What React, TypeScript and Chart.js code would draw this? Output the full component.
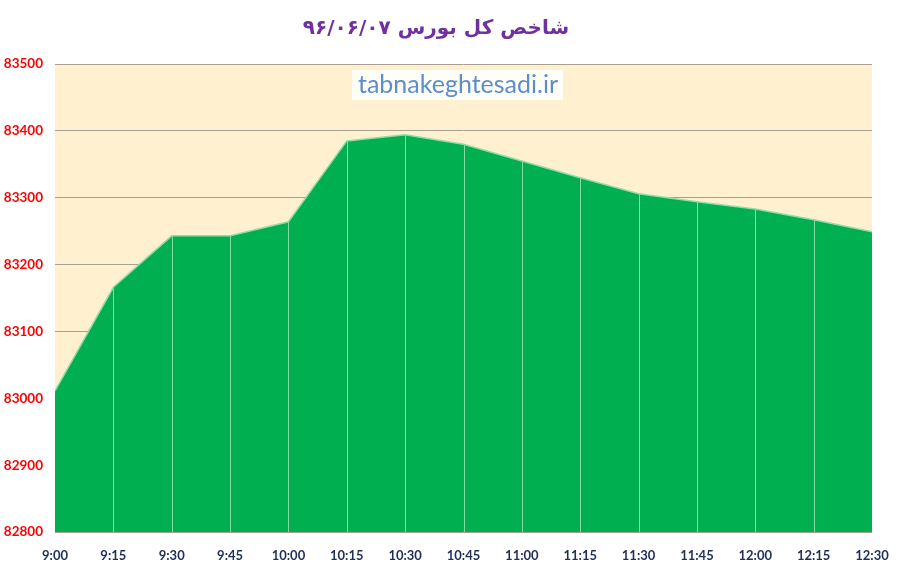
import { useEffect, useRef } from 'react';
import { Chart, registerables, Plugin } from 'chart.js';

Chart.register(...registerables);

const times = [
	'9:00', '9:15', '9:30', '9:45', '10:00', '10:15', '10:30', '10:45',
	'11:00', '11:15', '11:30', '11:45', '12:00', '12:15', '12:30',
];
const indexValues = [
	83011, 83166, 83243, 83243, 83264, 83385, 83394, 83380,
	83355, 83330, 83306, 83294, 83283, 83267, 83249,
];
const titleText = 'شاخص کل بورس ۹۶/۰۶/۰۷';
const watermark = 'tabnakeghtesadi.ir';

// beige plot background, drop lines and the site watermark
const decorations: Plugin<'line'> = {
	id: 'decorations',
	beforeDraw(chart) {
		const { ctx, chartArea: a } = chart;
		ctx.save();
		ctx.fillStyle = '#FFF0CF';
		ctx.fillRect(a.left, a.top, a.right - a.left, a.bottom - a.top);
		ctx.restore();
	},
	afterDatasetsDraw(chart) {
		const { ctx, chartArea: a } = chart;
		const meta = chart.getDatasetMeta(0);
		ctx.save();
		ctx.strokeStyle = '#86DCA0';
		ctx.lineWidth = 1;
		meta.data.forEach((pt, i) => {
			if (i === 0 || i === meta.data.length - 1) return;
			const x = Math.round(pt.x) + 0.5;
			ctx.beginPath();
			ctx.moveTo(x, pt.y);
			ctx.lineTo(x, a.bottom);
			ctx.stroke();
		});
		ctx.restore();
	},
	afterDraw(chart) {
		const { ctx } = chart;
		ctx.save();
		ctx.fillStyle = 'rgba(255,255,255,0.85)';
		ctx.fillRect(352, 70, 211, 30);
		ctx.font = '25px Lato';
		ctx.fillStyle = '#5B8FCB';
		ctx.textAlign = 'center';
		ctx.textBaseline = 'alphabetic';
		ctx.fillText(watermark, 458, 93, 202);
		ctx.restore();
	},
};

export default function App() {
	const chartRef = useRef<HTMLCanvasElement>(null);

	useEffect(() => {
		document.body.style.margin = '0';
		if (!chartRef.current) return;
		const chart = new Chart(chartRef.current, {
			type: 'line',
			data: {
				labels: times,
				datasets: [
					{
						data: indexValues,
						fill: 'start',
						backgroundColor: '#00B050',
						borderColor: '#92DDA6',
						borderWidth: 1.5,
						pointRadius: 0,
						tension: 0,
					},
				],
			},
			options: {
				responsive: false,
				animation: false,
				layout: { padding: { top: 0, right: 26, left: 0, bottom: 0 } },
				plugins: {
					legend: { display: false },
					tooltip: { enabled: false },
					title: {
						display: true,
						text: titleText,
						color: '#7030A0',
						font: { family: 'DejaVu Sans', size: 20, weight: 'bold' },
						padding: { top: 17, bottom: 23 },
					},
				},
				scales: {
					x: {
						offset: false,
						grid: { display: false },
						border: { display: false },
						ticks: {
							color: '#1F2E5A',
							font: { family: 'Lato', size: 13, weight: 'bold' },
							padding: 8,
							maxRotation: 0,
							autoSkip: false,
						},
						afterFit(scale) {
							scale.height = 34;
						},
					},
					y: {
						min: 82800,
						max: 83500,
						grid: { color: '#A89F91', drawTicks: false, lineWidth: 1 },
						border: { display: false },
						ticks: {
							stepSize: 100,
							color: '#FF0000',
							font: { family: 'Lato', size: 13.5, weight: 'bold' },
							padding: 12,
							callback: (v) => String(v),
						},
						afterFit(scale) {
							scale.width = 55;
						},
					},
				},
			},
			plugins: [decorations],
		});
		return () => chart.destroy();
	}, []);

	return (
		<div style={{ width: 898, height: 566 }}>
			<canvas ref={chartRef} width={898} height={566}></canvas>
		</div>
	);
}
